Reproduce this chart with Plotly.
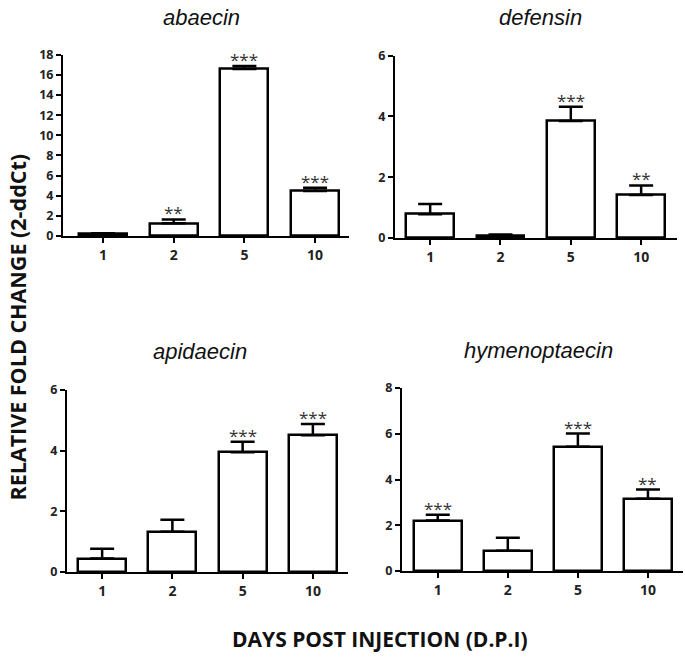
import plotly.graph_objects as go

days = ["1", "2", "5", "10"]

abaecin_mean = [0.2, 1.26, 16.6, 4.48]
abaecin_err = [0.08, 0.38, 0.28, 0.3]
abaecin_sig = ["", "**", "***", "***"]

defensin_mean = [0.78, 0.08, 3.85, 1.41]
defensin_err = [0.34, 0.03, 0.47, 0.32]
defensin_sig = ["", "", "***", "**"]

apidaecin_mean = [0.45, 1.33, 3.95, 4.51]
apidaecin_err = [0.32, 0.39, 0.34, 0.37]
apidaecin_sig = ["", "", "***", "***"]

hymeno_mean = [2.21, 0.89, 5.43, 3.16]
hymeno_err = [0.25, 0.57, 0.58, 0.4]
hymeno_sig = ["***", "", "***", "**"]

W, H = 685, 659

def fx(px):
    return px / W

def fy(py):
    return 1 - py / H

panels = [
    dict(name="abaecin", mean=abaecin_mean, err=abaecin_err, sig=abaecin_sig,
         xd=[63, 349], yd=[233, 47], xr=[-0.566, 3.48], yr=[0, 18], dtick=2,
         title_xy=(201, 9)),
    dict(name="defensin", mean=defensin_mean, err=defensin_err, sig=defensin_sig,
         xd=[395, 677], yd=[235, 48], xr=[-0.5, 3.51], yr=[0, 6], dtick=2,
         title_xy=(540, 9)),
    dict(name="apidaecin", mean=apidaecin_mean, err=apidaecin_err, sig=apidaecin_sig,
         xd=[67, 348], yd=[578, 391], xr=[-0.5, 3.5], yr=[0, 6], dtick=2,
         title_xy=(200, 352)),
    dict(name="hymenoptaecin", mean=hymeno_mean, err=hymeno_err, sig=hymeno_sig,
         xd=[402, 683], yd=[577, 389], xr=[-0.51, 3.5], yr=[0, 8], dtick=2,
         title_xy=(538, 351)),
]

fig = go.Figure()
annotations = []
xtickfont = dict(family="Open Sans", size=14, color="#222222", weight="bold")
ytickfont = dict(family="Open Sans", size=12.5, color="#222222", weight="bold")

for i, p in enumerate(panels):
    k = "" if i == 0 else str(i + 1)
    xs = list(range(len(days)))
    fig.add_trace(go.Bar(
        x=xs, y=p["mean"], width=0.68,
        marker=dict(color="white", line=dict(color="black", width=2.5)),
        error_y=dict(type="data", array=p["err"], arrayminus=[0] * len(days),
                     symmetric=False, color="black", thickness=2.5, width=12),
        xaxis="x" + k, yaxis="y" + k, showlegend=False,
    ))
    fig.layout["xaxis" + k] = dict(
        domain=[fx(p["xd"][0]), fx(p["xd"][1])], range=p["xr"],
        anchor="y" + k, tickmode="array", tickvals=xs, ticktext=days,
        showline=True, linecolor="black", linewidth=2, ticks="outside",
        ticklen=5, tickwidth=2, tickcolor="black", showgrid=False,
        zeroline=False, tickfont=xtickfont, fixedrange=True,
    )
    fig.layout["yaxis" + k] = dict(
        domain=[fy(p["yd"][0]), fy(p["yd"][1])], range=p["yr"],
        anchor="x" + k, dtick=p["dtick"], tick0=0,
        showline=True, linecolor="black", linewidth=2, ticks="outside",
        ticklen=5, tickwidth=2, tickcolor="black", showgrid=False,
        zeroline=False, tickfont=ytickfont, fixedrange=True,
    )
    tx, ty = p["title_xy"]
    annotations.append(dict(
        text="<i>" + p["name"] + "</i>", xref="paper", yref="paper",
        x=fx(tx), y=fy(ty), xanchor="center", yanchor="middle", showarrow=False,
        font=dict(family="Liberation Sans", size=22, color="#111111"),
    ))
    for j, s in enumerate(p["sig"]):
        if s:
            annotations.append(dict(
                text=s, x=j, y=p["mean"][j] + p["err"][j],
                xref="x" + k, yref="y" + k, xanchor="center", yanchor="bottom",
                yshift=-7, showarrow=False,
                font=dict(family="Open Sans", size=17, color="#333333"),
            ))

annotations.append(dict(
    text="RELATIVE FOLD CHANGE (2-ddCt)", xref="paper", yref="paper",
    x=fx(18), y=fy(327), xanchor="center", yanchor="middle", textangle=-90,
    showarrow=False,
    font=dict(family="Open Sans", size=21.5, color="#111111", weight="bold"),
))
annotations.append(dict(
    text="DAYS POST INJECTION (D.P.I)", xref="paper", yref="paper",
    x=fx(380), y=fy(647), xanchor="center", yanchor="middle", showarrow=False,
    font=dict(family="Open Sans", size=21, color="#111111", weight="bold"),
))

fig.update_layout(
    width=W, height=H, margin=dict(l=0, r=0, t=0, b=0),
    paper_bgcolor="white", plot_bgcolor="white",
    annotations=annotations, bargap=0,
)

fig.write_html("out.html", config={"displayModeBar": False},
               post_script="document.body.style.margin='0';")
